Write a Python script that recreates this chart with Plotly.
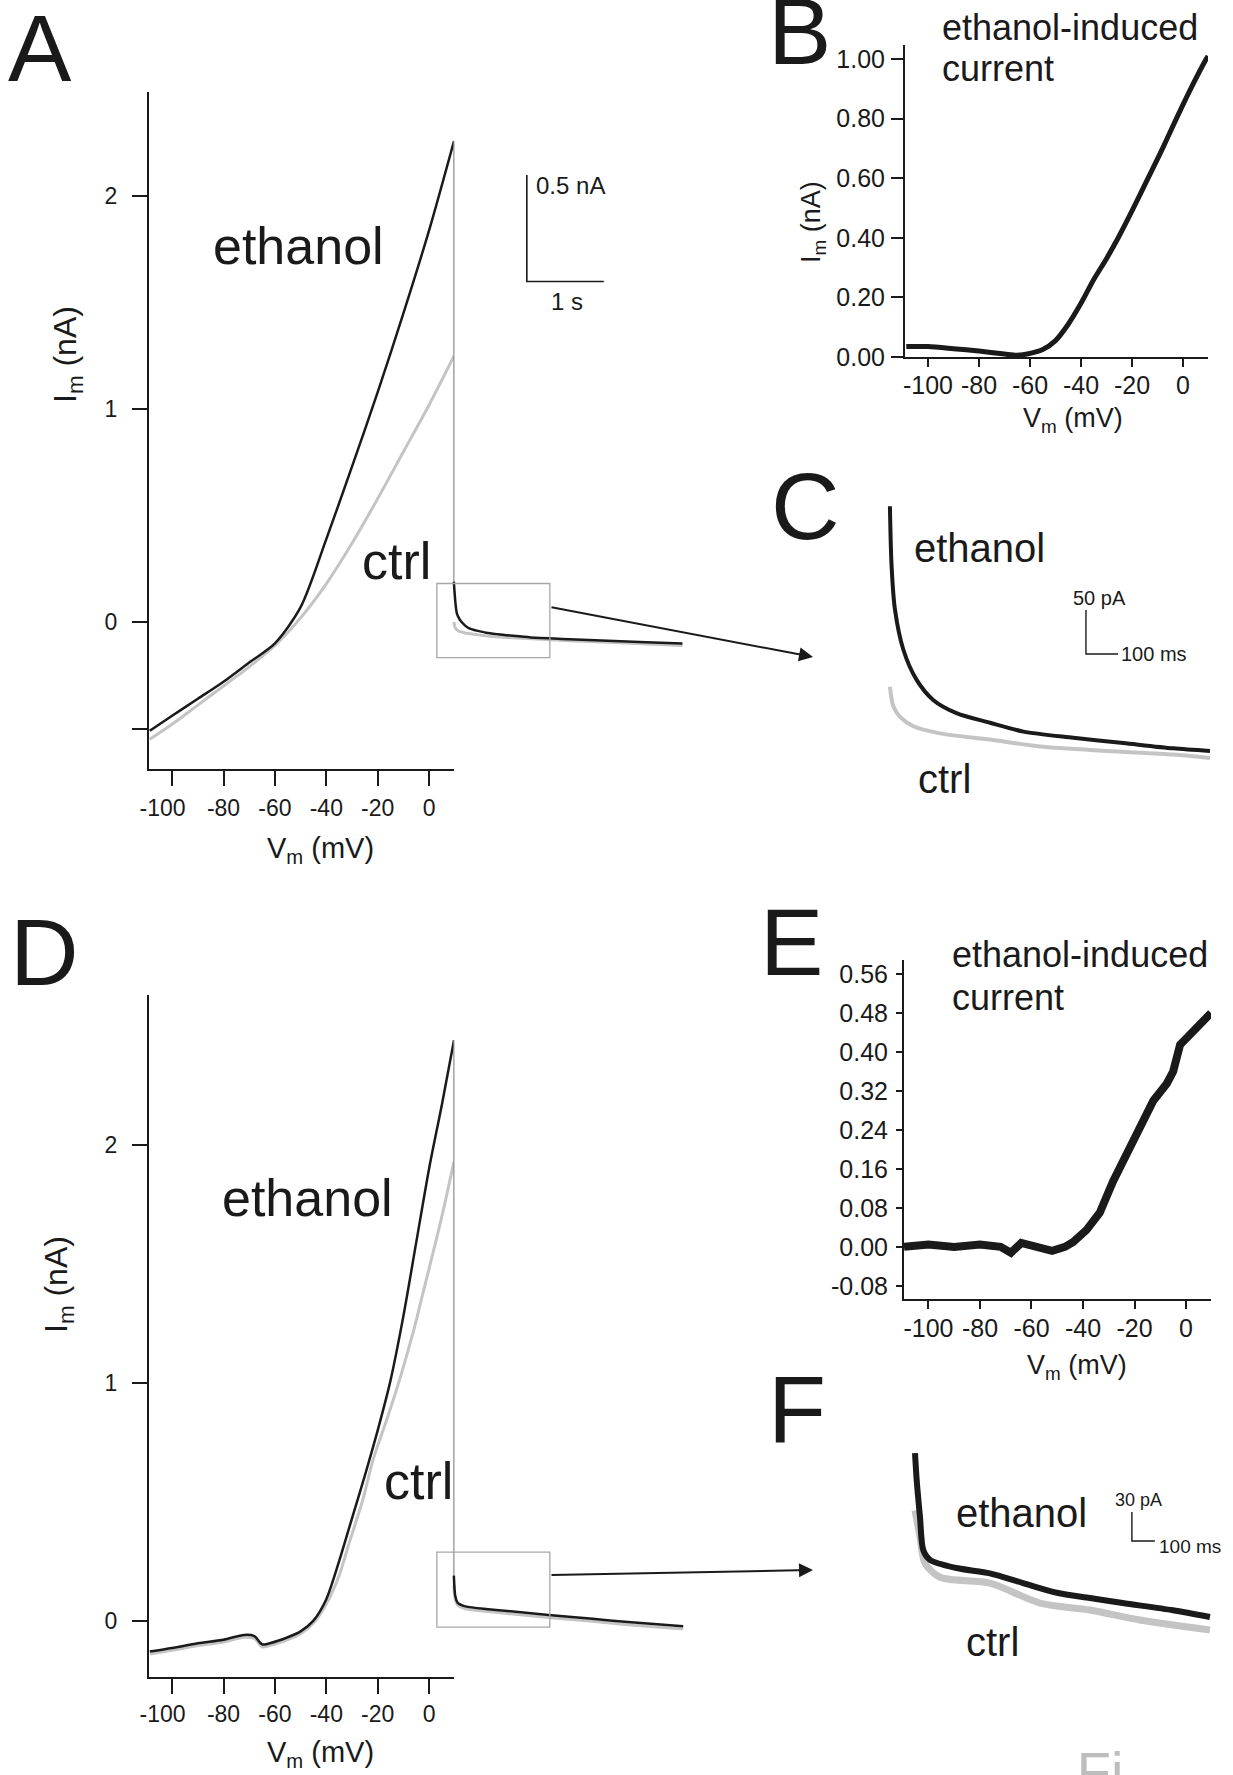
import plotly.graph_objects as go

W, H = 1233, 1775
INK = "#1a1a1a"
GREY = "#c4c4c4"
FONT = "Liberation Sans, Arial, Helvetica, sans-serif"
NBSP = "\u00a0"

# ---------------- data ----------------
# A: voltage-ramp I-V, cell 1 (mV, nA)
A_V_ETHANOL = [-108.7, -100, -90, -80, -70, -60, -50, -40, -30, -20, -10, 0, 9.7]
A_I_ETHANOL = [-0.51, -0.44, -0.36, -0.28, -0.19, -0.10, 0.07, 0.39, 0.73, 1.08, 1.45, 1.84, 2.26]
A_V_CTRL = [-108.7, -100, -90, -80, -70, -60, -50, -40, -30, -20, -10, 0, 9.7]
A_I_CTRL = [-0.55, -0.48, -0.39, -0.30, -0.21, -0.11, 0.02, 0.18, 0.37, 0.58, 0.80, 1.02, 1.25]
# A: current after the ramp (s, nA)
A_T_TAIL_ETHANOL = [0, 0.04, 0.08, 0.14, 0.2, 0.3, 0.42, 0.57, 0.73, 1.0, 1.5, 2.0, 2.5, 2.97]
A_TAIL_ETHANOL = [0.19, 0.04, 0.01, -0.014, -0.03, -0.04, -0.05, -0.057, -0.063, -0.072, -0.08, -0.088, -0.095, -0.10]
A_T_TAIL_CTRL = [0, 0.01, 0.03, 0.07, 0.16, 0.31, 0.47, 0.68, 0.89, 1.0, 1.5, 2.0, 2.5, 2.97]
A_TAIL_CTRL = [0.0, -0.02, -0.033, -0.044, -0.052, -0.059, -0.067, -0.072, -0.076, -0.08, -0.088, -0.095, -0.103, -0.11]

# B: ethanol-induced current, cell 1 (mV, nA)
B_V = [-108.5, -100, -90, -80, -70, -65, -60, -55, -50, -45, -40, -35, -30, -25.4, -20, -13.7, -8, -2.6, 3, 9.1, 9.8]
B_I = [0.035, 0.035, 0.028, 0.02, 0.01, 0.006, 0.012, 0.025, 0.055, 0.11, 0.18, 0.26, 0.33, 0.40, 0.49, 0.60, 0.70, 0.80, 0.90, 1.0, 1.01]

# C: expanded tail, cell 1 (s, pA)
C_T_ETHANOL = [0, 0.0052, 0.0156, 0.042, 0.083, 0.135, 0.208, 0.3125, 0.417, 0.573, 0.729, 0.885, 1.0]
C_I_ETHANOL = [206, 138, 89, 43, 9, -14, -29, -40, -50, -57, -63, -69, -72]
C_T_CTRL = [0, 0.0104, 0.031, 0.073, 0.156, 0.3125, 0.469, 0.677, 0.885, 1.0]
C_I_CTRL = [1, -21, -33, -44, -52, -59, -67, -72, -76, -80]

# D: voltage-ramp I-V, cell 2 (mV, nA)
D_V_ETHANOL = [-108.7, -100, -90, -80, -72, -68, -65, -62, -55, -50, -45, -40, -35, -30, -25, -20, -15, -10, -5, 0, 5, 9.7]
D_I_ETHANOL = [-0.13, -0.115, -0.095, -0.08, -0.06, -0.065, -0.10, -0.095, -0.07, -0.045, 0.0, 0.09, 0.25, 0.43, 0.61, 0.80, 1.01, 1.28, 1.59, 1.90, 2.17, 2.44]
D_V_CTRL = [-108.7, -100, -90, -80, -72, -68, -65, -62, -55, -50, -45, -40, -35, -31, -26, -21.7, -16, -11, -6, -3, 0, 5, 9.7]
D_I_CTRL = [-0.14, -0.125, -0.105, -0.09, -0.07, -0.075, -0.11, -0.105, -0.08, -0.055, -0.01, 0.07, 0.19, 0.33, 0.50, 0.68, 0.86, 1.03, 1.22, 1.35, 1.48, 1.70, 1.93]
# D: current after the ramp (s, nA)
D_T_TAIL = [0, 0.02, 0.05, 0.15, 0.48, 1.23, 1.8, 2.22, 2.98]
D_TAIL_ETHANOL = [0.19, 0.10, 0.075, 0.06, 0.047, 0.024, 0.008, -0.005, -0.024]
D_TAIL_CTRL = [0.15, 0.085, 0.065, 0.05, 0.037, 0.013, -0.003, -0.016, -0.035]

# E: ethanol-induced current, cell 2 (mV, nA)
E_V = [-109.5, -100, -90, -80, -72, -68, -64, -58, -52, -47, -43.8, -38.6, -33.5, -28.3, -23.1, -17.9, -12.7, -7.5, -5, -2.3, 2.8, 9.7]
E_I = [0.0, 0.005, 0.0, 0.005, 0.0, -0.012, 0.008, 0.0, -0.008, 0.0, 0.01, 0.035, 0.07, 0.135, 0.19, 0.245, 0.30, 0.335, 0.36, 0.415, 0.445, 0.48]

# F: expanded tail, cell 2 (s, pA)
F_T_ETHANOL = [0, 0.0074, 0.0217, 0.036, 0.065, 0.181, 0.326, 0.470, 0.617, 0.761, 0.904, 1.122, 1.283]
F_I_ETHANOL = [193, 165, 127, 93, 83, 74.5, 69, 59, 49, 43.6, 38.4, 31, 24]
F_T_CTRL = [0, 0.0217, 0.043, 0.109, 0.326, 0.543, 0.761, 0.978, 1.283]
F_I_CTRL = [134, 106.5, 79.7, 65, 59, 38.4, 31.2, 20.9, 10.6]

# axis ticks
IV_X_TICKS = [-100, -80, -60, -40, -20, 0]
IV_X_LABELS = ["-100", "-80", "-60", "-40", "-20", "0"]
A_Y_TICKS = [-0.5, 0, 1, 2]
A_Y_LABELS = ["", "0", "1", "2"]
D_Y_TICKS = [0, 1, 2]
D_Y_LABELS = ["0", "1", "2"]
B_Y_TICKS = [0, 0.2, 0.4, 0.6, 0.8, 1.0]
B_Y_LABELS = ["0.00", "0.20", "0.40", "0.60", "0.80", "1.00"]
E_Y_TICKS = [-0.08, 0, 0.08, 0.16, 0.24, 0.32, 0.40, 0.48, 0.56]
E_Y_LABELS = ["-0.08", "0.00", "0.08", "0.16", "0.24", "0.32", "0.40", "0.48", "0.56"]

# scale bars
A_BAR_NA, A_BAR_S = 0.5, 1.0
C_BAR_PA, C_BAR_S = 50, 0.1
F_BAR_PA, F_BAR_S = 30, 0.1


# ---------------- helpers ----------------
def dom_x(left, right):
    return [left / W, right / W]


def dom_y(top, bottom):
    return [1 - bottom / H, 1 - top / H]


def px(x):
    return x / W


def py(y):
    return 1 - y / H


def shown_axis(domain, rng, vals, text, ticklen, size, anchor, standoff):
    return dict(domain=domain, range=rng, tickmode="array", tickvals=vals, ticktext=text,
                ticks="outside", ticklen=ticklen, tickwidth=2, tickcolor=INK,
                showline=True, linewidth=2, linecolor=INK, showgrid=False, zeroline=False,
                tickfont=dict(size=size, color=INK, family=FONT), anchor=anchor,
                ticklabelstandoff=standoff, fixedrange=True, automargin=False)


def hidden_axis(domain, rng, anchor):
    return dict(domain=domain, range=rng, visible=False, anchor=anchor,
                showgrid=False, zeroline=False, fixedrange=True, automargin=False)


def line(x, y, xa, ya, color, width, shape="linear"):
    return go.Scatter(x=x, y=y, xaxis=xa, yaxis=ya, mode="lines", showlegend=False,
                      hoverinfo="skip", line=dict(color=color, width=width, shape=shape,
                                                  smoothing=0.8))


# the wide "-100" label of the large I-V panels sits left of its tick
IV_X_LABELS_WIDE = [IV_X_LABELS[0] + NBSP * 3] + IV_X_LABELS[1:]

fig = go.Figure()

# A
fig.add_trace(line(A_V_CTRL, A_I_CTRL, "x", "y", GREY, 3, "spline"))
fig.add_trace(line(A_V_ETHANOL, A_I_ETHANOL, "x", "y", INK, 2.5, "spline"))
fig.add_trace(line([0, 0], [A_I_ETHANOL[-1], A_TAIL_ETHANOL[0]], "x2", "y", "#8c8c8c", 1.2))
fig.add_trace(line(A_T_TAIL_CTRL, A_TAIL_CTRL, "x2", "y", GREY, 3))
fig.add_trace(line(A_T_TAIL_ETHANOL, A_TAIL_ETHANOL, "x2", "y", INK, 2.5, "spline"))
a_bar_t, a_bar_i = 0.948, 1.60
fig.add_trace(line([a_bar_t, a_bar_t, a_bar_t + A_BAR_S],
                   [a_bar_i + A_BAR_NA, a_bar_i, a_bar_i], "x2", "y", INK, 1.6))

# B
fig.add_trace(line(B_V, B_I, "x3", "y3", INK, 5, "spline"))

# C
fig.add_trace(line(C_T_CTRL, C_I_CTRL, "x4", "y4", GREY, 4, "spline"))
fig.add_trace(line(C_T_ETHANOL, C_I_ETHANOL, "x4", "y4", INK, 4, "spline"))
c_bar_t, c_bar_i = 0.6125, 38.2
fig.add_trace(line([c_bar_t, c_bar_t, c_bar_t + C_BAR_S],
                   [c_bar_i + C_BAR_PA, c_bar_i, c_bar_i], "x4", "y4", INK, 1.4))

# D
fig.add_trace(line(D_V_CTRL, D_I_CTRL, "x5", "y5", GREY, 3, "spline"))
fig.add_trace(line(D_V_ETHANOL, D_I_ETHANOL, "x5", "y5", INK, 2.5, "spline"))
fig.add_trace(line([0, 0], [D_I_ETHANOL[-1], D_TAIL_ETHANOL[0]], "x6", "y5", "#8c8c8c", 1.2))
fig.add_trace(line(D_T_TAIL, D_TAIL_CTRL, "x6", "y5", GREY, 3, "spline"))
fig.add_trace(line(D_T_TAIL, D_TAIL_ETHANOL, "x6", "y5", INK, 2.5, "spline"))

# E
fig.add_trace(line(E_V, E_I, "x7", "y7", INK, 8))

# F
fig.add_trace(line(F_T_CTRL, F_I_CTRL, "x8", "y8", GREY, 7, "spline"))
fig.add_trace(line(F_T_ETHANOL, F_I_ETHANOL, "x8", "y8", INK, 6, "spline"))
f_bar_t, f_bar_i = 0.9435, 102.4
fig.add_trace(line([f_bar_t, f_bar_t, f_bar_t + F_BAR_S],
                   [f_bar_i + F_BAR_PA, f_bar_i, f_bar_i], "x8", "y8", INK, 1.4))

# page-level caption peeking in at the bottom edge, on a full-canvas pixel axis
fig.add_trace(go.Scatter(x=[1100], y=[1749], xaxis="x9", yaxis="y9", mode="text", text=["Fi"],
                         textposition="bottom center", cliponaxis=False, showlegend=False,
                         hoverinfo="skip", textfont=dict(size=56, color="#bdbdbd", family=FONT)))

# ---------------- axes ----------------
layout = dict(
    width=W, height=H, margin=dict(l=0, r=0, t=0, b=0, autoexpand=False),
    paper_bgcolor="white", plot_bgcolor="rgba(0,0,0,0)", showlegend=False,
    font=dict(family=FONT, color=INK),
    xaxis=shown_axis(dom_x(149, 454), [-109, 9.7], IV_X_TICKS, IV_X_LABELS_WIDE, 15, 23, "y", 2),
    yaxis=shown_axis(dom_y(92, 769), [-0.69, 2.49], A_Y_TICKS, A_Y_LABELS, 15, 23, "x", 10),
    xaxis2=hidden_axis(dom_x(430, 684), [-0.31, 2.99], "y"),
    xaxis3=shown_axis(dom_x(905, 1208), [-109, 9.8], IV_X_TICKS, IV_X_LABELS, 8, 25, "y3", -3),
    yaxis3=shown_axis(dom_y(45, 357), [0, 1.047], B_Y_TICKS, B_Y_LABELS, 12, 25, "x3", 1),
    xaxis4=hidden_axis(dom_x(880, 1215), [-0.031, 1.0156], "y4"),
    yaxis4=hidden_axis(dom_y(490, 780), [-105, 224.5], "x4"),
    xaxis5=shown_axis(dom_x(149, 454), [-109, 9.7], IV_X_TICKS, IV_X_LABELS_WIDE, 15, 23, "y5", 0),
    yaxis5=shown_axis(dom_y(995, 1677), [-0.237, 2.63], D_Y_TICKS, D_Y_LABELS, 15, 23, "x5", 10),
    xaxis6=hidden_axis(dom_x(430, 684), [-0.31, 2.99], "y5"),
    xaxis7=shown_axis(dom_x(904, 1211), [-109.5, 9.7], IV_X_TICKS, IV_X_LABELS, 8, 25, "y7", -2),
    yaxis7=shown_axis(dom_y(960, 1299), [-0.107, 0.589], E_Y_TICKS, E_Y_LABELS, 6, 25, "x7", 3),
    xaxis8=hidden_axis(dom_x(905, 1215), [-0.0435, 1.305], "y8"),
    yaxis8=hidden_axis(dom_y(1440, 1660), [-20.3, 206.5], "x8"),
    xaxis9=hidden_axis([0, 1], [0, W], "y9"),
    yaxis9=hidden_axis([0, 1], [H, 0], "x9"),
)
fig.update_layout(**layout)

# zoom boxes around the start of the tails
BOX = dict(type="rect", line=dict(color="#a8a8a8", width=1.3), fillcolor="rgba(0,0,0,0)")
fig.add_shape(xref="x2", yref="y", x0=-0.2208, x1=1.247, y0=-0.1664, y1=0.1814, **BOX)
fig.add_shape(xref="x6", yref="y5", x0=-0.2208, x1=1.247, y0=-0.027, y1=0.288, **BOX)


# ---------------- text ----------------
def note(text, x, y, size, xanchor="center", yanchor="middle", color=INK, angle=0):
    fig.add_annotation(text=text, xref="paper", yref="paper", x=px(x), y=py(y),
                       xanchor=xanchor, yanchor=yanchor, showarrow=False, textangle=angle,
                       font=dict(size=size, color=color, family=FONT))


for letter, x, y in [("A", 40, 48), ("B", 800, 31), ("C", 805, 506),
                     ("D", 44, 952), ("E", 791, 942), ("F", 797, 1409)]:
    note(letter, x, y, 95)

note("ethanol", 298, 246, 52)
note("ctrl", 396, 561, 52)
note("ethanol", 307, 1198, 52)
note("ctrl", 418, 1481, 52)
note("ethanol", 979, 548, 40)
note("ctrl", 944, 779, 40)
note("ethanol", 1021, 1513, 40)
note("ctrl", 992, 1642, 40)

note("ethanol-induced", 940, 27, 36, xanchor="left")
note("current", 940, 69, 36, xanchor="left")
note("ethanol-induced", 950, 955, 36, xanchor="left")
note("current", 950, 997, 36, xanchor="left")

note("I<sub>m</sub> (nA)", 68, 355, 32, angle=-90)
note("I<sub>m</sub> (nA)", 58, 1285, 32, angle=-90)
note("V<sub>m</sub> (mV)", 320, 850, 29)
note("V<sub>m</sub> (mV)", 320, 1754, 29)
note("I<sub>m</sub> (nA)", 813, 222, 27, angle=-90)
note("V<sub>m</sub> (mV)", 1073, 420, 27)
note("V<sub>m</sub> (mV)", 1077, 1367, 27)

note("0.5 nA", 534, 186, 24, xanchor="left")
note("1 s", 567, 302, 24)
note("50 pA", 1099, 598, 20)
note("100 ms", 1119, 654, 20, xanchor="left")
note("30 pA", 1138, 1500, 18)
note("100 ms", 1157, 1546, 19, xanchor="left")

# arrows from the boxes to the expanded tails
for (x0, y0), (x1, y1) in [((550, 607), (813, 657)), ((550, 1575), (813, 1570))]:
    fig.add_annotation(x=px(x1), y=py(y1), xref="paper", yref="paper", text="",
                       showarrow=True, ax=x0 - x1, ay=y0 - y1, arrowhead=2,
                       arrowsize=1.4, arrowwidth=2, arrowcolor=INK, standoff=0)

fig.write_html("out.html")
